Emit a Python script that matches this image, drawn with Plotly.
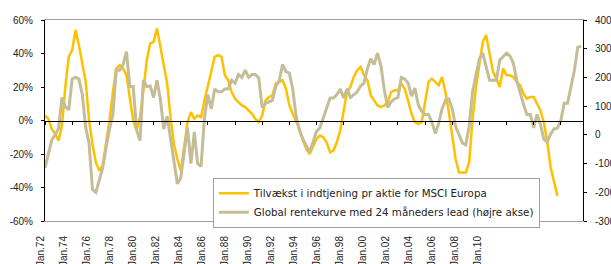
import pandas as pd
import plotly.graph_objects as go

# quarterly samples
eps_growth = [3, 1, -5, -8, -12, -3, 20, 38, 42, 54, 45, 35, 23, 0, -14, -25,
              -30, -27, -14, 0, 17, 31, 33, 31, 27, 12, 0, -6, 2, 18, 36, 46,
              47, 55, 44, 35, 22, 2, -14, -23, -30, -16, -1, 5, 1, 3, 2, 12,
              21, 31, 38, 39, 38, 27, 24, 17, 13, 11, 9, 8, 6, 4, 1, -1,
              3, 12, 14, 15, 22, 23, 24, 19, 9, 4, -1, -5, -12, -17, -20, -15,
              -11, -9, -10, -13, -19, -18, -13, -6, 7, 17, 20, 26, 30, 32, 27, 24,
              15, 12, 9, 8, 9, 11, 17, 18, 18, 22, 19, 12, 4, -1, -2, -1,
              11, 23, 25, 23, 21, 26, 17, 5, -10, -23, -31, -31, -31, -25, 1, 20,
              35, 47, 51, 40, 29, 25, 20, 31, 27, 27, 26, 23, 21, 16, 13, 14,
              14, 10, 6, -1, -13, -28, -36, -45]

yield_curve = [-115, -70, -18, 0, 23, 130, 98, 87, 195, 200, 195, 140, 25, -30, -190, -200,
               -160, -115, -45, 20, 70, 226, 225, 245, 290, 168, 168, 17, -20, 191, 168, 170,
               130, 190, 125, 20, 65, -10, -80, -170, -150, -60, 25, -100, 10, -100, -110, 60,
               140, 90, 160, 150, 150, 160, 160, 190, 180, 210, 200, 225, 200, 210, 210, 198,
               95, 110, 115, 120, 170, 186, 245, 220, 215, 160, 65, 15, -15, -40, -60, -25,
               12, 24, 59, 94, 128, 128, 140, 160, 128, 160, 130, 140, 150, 170, 180, 230,
               265, 245, 285, 240, 155, 95, 115, 125, 130, 200, 195, 180, 135, 163, 105, 82,
               71, 71, 45, 5, 40, 90, 120, 125, 90, 30, 0, -28, -35, 30, 150, 210,
               265, 285, 235, 190, 190, 190, 260, 272, 285, 275, 250, 190, 145, 107, 71, 71,
               24, 71, 36, -15, -25, 3, 20, 24, 50, 110, 110, 165, 225, 305, 308]

label_years = list(range(1972, 2011, 2))
label_text = ["Jan.%02d" % (y % 100) for y in label_years]
left_ticks = [-60, -40, -20, 0, 20, 40, 60]
left_text = ["%d%%" % v for v in left_ticks]
right_ticks = [-300, -200, -100, 0, 100, 200, 300, 400]
right_text = [str(v) for v in right_ticks]

eps_dates = pd.date_range("1972-01-01", periods=len(eps_growth), freq="QS")
yc_dates = pd.date_range("1972-01-01", periods=len(yield_curve), freq="QS")

FONT = "Liberation Sans, Arial, sans-serif"
LEGFONT = "DejaVu Sans, Verdana, sans-serif"
fig = go.Figure()
fig.add_trace(go.Scatter(x=eps_dates, y=eps_growth, mode="lines",
                         name="Tilvækst i indtjening pr aktie for MSCI Europa",
                         line=dict(color="#FFC000", width=2.5)))
fig.add_trace(go.Scatter(x=yc_dates, y=yield_curve, mode="lines", yaxis="y2",
                         name="Global rentekurve med 24 måneders lead (højre akse)",
                         line=dict(color="#C4BD97", width=3)))
# invisible trace carrying the label axis
fig.add_trace(go.Scatter(x=[label_years[0], label_years[-1]], y=[None, None], xaxis="x2",
                         showlegend=False, hoverinfo="skip"))

fig.update_layout(
    width=611, height=264,
    margin=dict(l=45, r=28, t=20, b=43, autoexpand=False),
    paper_bgcolor="white", plot_bgcolor="white",
    font=dict(family=FONT, size=10, color="#222"),
    xaxis=dict(type="date", range=["1972-01-01", "2011-08-20"],
               anchor="free", position=0.5, automargin=False,
               showline=True, linecolor="black", linewidth=1,
               ticks="outside", ticklen=3, tickcolor="black",
               tick0="1972-01-01", dtick="M24",
               showticklabels=False, showgrid=False, zeroline=False),
    xaxis2=dict(overlaying="x", anchor="y", side="bottom", automargin=False,
                range=[1971.913, 2018.70],
                tickvals=label_years, ticktext=label_text, tickangle=-90,
                ticks="", ticklabelstandoff=10, ticklabelshift=-5,
                showline=True, mirror=True, linecolor="#A0A0A0", linewidth=1,
                showgrid=False, zeroline=False,
                tickfont=dict(family=FONT, size=10, color="#222")),
    yaxis=dict(range=[-60, 60], tickvals=left_ticks, ticktext=left_text,
               automargin=False,
               showline=True, linecolor="black", linewidth=1,
               ticks="outside", ticklen=3, tickcolor="black",
               showgrid=False, zeroline=False, ticklabelstandoff=6),
    yaxis2=dict(range=[-300, 400], tickvals=right_ticks, ticktext=right_text,
                overlaying="y", side="right", automargin=False,
                showline=True, linecolor="black", linewidth=1,
                ticks="outside", ticklen=3, tickcolor="black",
                showgrid=False, zeroline=False, ticklabelstandoff=6),
    legend=dict(x=0.312, y=0.215, xanchor="left", yanchor="top",
                bgcolor="white", bordercolor="#A0A0A0", borderwidth=1,
                font=dict(family=LEGFONT, size=10.3, color="#222"),
                tracegroupgap=0),
    showlegend=True,
)

fig.write_html("out.html", config={"displayModeBar": False},
               post_script="document.body.style.margin='0';document.body.style.overflow='hidden';")
